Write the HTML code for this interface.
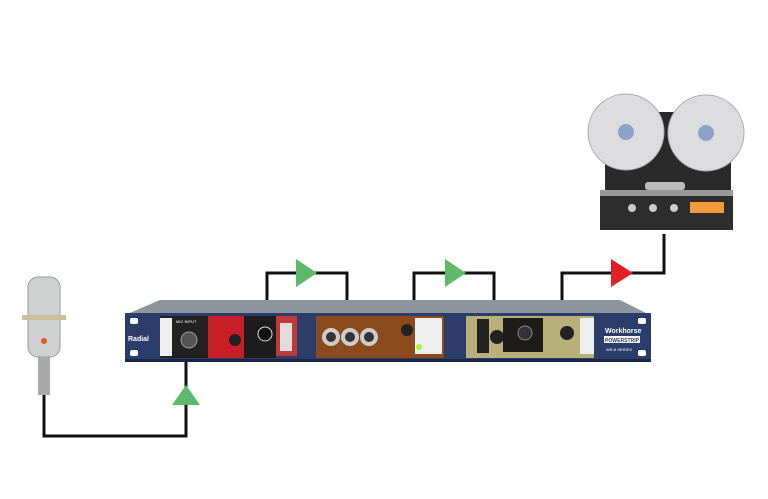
<!DOCTYPE html>
<html><head><style>html,body{margin:0;padding:0;background:#fff;}svg{display:block}</style></head>
<body>
<svg width="768" height="499" viewBox="0 0 768 499" xmlns="http://www.w3.org/2000/svg" font-family="Liberation Sans, sans-serif">
<rect width="768" height="499" fill="#fff"/>
<g fill="none" stroke="#111" stroke-width="3">
<polyline points="267,300 267,273 347,273 347,300"/>
<polyline points="414,300 414,273 494,273 494,300"/>
<polyline points="562,300 562,273 664,273 664,234"/>
<polyline points="44,395 44,436 186,436 186,360"/>
</g>
<polygon points="296,259 317,273 296,287" fill="#5cba6a"/>
<polygon points="445,259 466,273 445,287" fill="#5cba6a"/>
<polygon points="611,259 633,273 611,287" fill="#e32027"/>
<polygon points="172,405 200,405 186,385" fill="#5cba6a"/>
<polygon points="160,300 620,300 650,315 125,315" fill="#8e959c"/>
<rect x="125" y="313" width="526" height="48" fill="#2c3d6b"/>
<rect x="125" y="359" width="526" height="3" fill="#1b2440"/>
<rect x="130" y="318" width="8" height="6" rx="2" fill="#fff"/>
<rect x="130" y="350" width="8" height="6" rx="2" fill="#fff"/>
<rect x="638" y="318" width="8" height="6" rx="2" fill="#fff"/>
<rect x="638" y="350" width="8" height="6" rx="2" fill="#fff"/>
<text x="128" y="341" font-size="7" fill="#fff" font-weight="bold">Radial</text>
<rect x="160" y="316" width="50" height="42" fill="#222"/>
<rect x="160" y="318" width="12" height="38" fill="#eee"/>
<circle cx="189" cy="340" r="8" fill="#555" stroke="#999"/>
<text x="176" y="323" font-size="4" fill="#fff">MIC INPUT</text>
<rect x="208" y="316" width="36" height="42" fill="#c81e26"/>
<circle cx="235" cy="340" r="6" fill="#222"/>
<rect x="244" y="316" width="32" height="42" fill="#1d1d1d"/>
<circle cx="265" cy="334" r="7" fill="#111" stroke="#ddd"/>
<rect x="276" y="316" width="21" height="40" fill="#c03a35"/>
<rect x="280" y="323" width="12" height="28" fill="#ddd"/>
<rect x="298" y="316" width="18" height="42" fill="#2c3d6b"/>
<rect x="316" y="316" width="128" height="42" fill="#8a4a1b"/>
<circle cx="331" cy="337" r="9" fill="#ccc"/><circle cx="331" cy="337" r="5" fill="#333"/>
<circle cx="350" cy="337" r="9" fill="#ccc"/><circle cx="350" cy="337" r="5" fill="#333"/>
<circle cx="369" cy="337" r="9" fill="#ccc"/><circle cx="369" cy="337" r="5" fill="#333"/>
<circle cx="407" cy="330" r="6" fill="#222"/>
<rect x="415" y="318" width="27" height="36" fill="#eee"/>
<circle cx="419" cy="347" r="3" fill="#9f3"/>
<rect x="444" y="316" width="22" height="42" fill="#2c3d6b"/>
<rect x="466" y="316" width="128" height="42" fill="#b8b07a"/>
<rect x="477" y="319" width="12" height="34" fill="#222"/>
<circle cx="497" cy="337" r="7" fill="#222"/>
<rect x="503" y="318" width="40" height="34" fill="#1e1c18"/>
<circle cx="525" cy="333" r="7" fill="#333" stroke="#888"/>
<circle cx="567" cy="333" r="7" fill="#222"/>
<rect x="580" y="318" width="14" height="36" fill="#eee"/>
<text x="605" y="333" font-size="7" fill="#fff" font-weight="bold">Workhorse</text>
<rect x="604" y="336" width="36" height="7" fill="#fff"/>
<text x="605" y="342" font-size="5.5" fill="#2c3d6b" font-weight="bold" textLength="34" lengthAdjust="spacingAndGlyphs">POWERSTRIP</text>
<text x="606" y="351" font-size="4" fill="#fff">WR-8 SERIES</text>
<rect x="28" y="277" width="32" height="80" rx="10" fill="#cfd0d0" stroke="#999"/>
<rect x="22" y="315" width="44" height="5" fill="#c9c0a0"/>
<circle cx="44" cy="341" r="3" fill="#e05a2a"/>
<rect x="38" y="357" width="12" height="38" fill="#aaa"/>
<rect x="605" y="112" width="126" height="80" fill="#2a2a2a"/>
<rect x="600" y="190" width="133" height="40" fill="#2d2d2d"/>
<rect x="600" y="190" width="133" height="6" fill="#999"/>
<rect x="690" y="202" width="34" height="11" fill="#f39a3b"/>
<circle cx="632" cy="208" r="4" fill="#ccc"/><circle cx="653" cy="208" r="4" fill="#ccc"/><circle cx="674" cy="208" r="4" fill="#ccc"/>
<rect x="645" y="182" width="40" height="8" rx="3" fill="#bbb"/>
<circle cx="626" cy="132" r="38" fill="#dcdcdf" stroke="#aaa"/>
<circle cx="626" cy="132" r="8" fill="#8fa0c8"/>
<circle cx="706" cy="133" r="38" fill="#dcdcdf" stroke="#aaa"/>
<circle cx="706" cy="133" r="8" fill="#8fa0c8"/>
</svg>
</body></html>
